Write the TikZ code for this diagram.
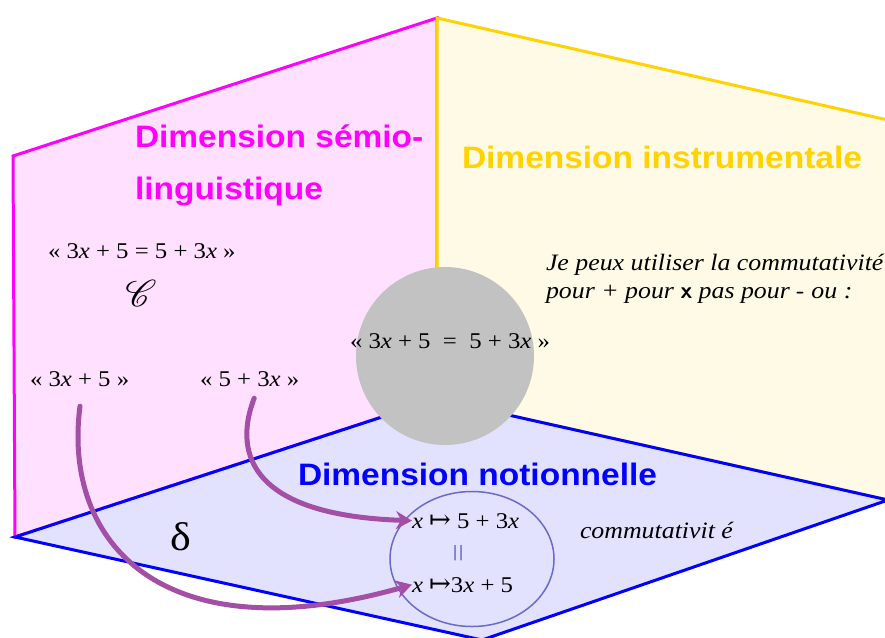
\documentclass[tikz,border=0pt]{standalone}
\usepackage{fontspec}
\setmainfont{Liberation Serif}[FakeStretch=1.1]
\newfontfamily\headfont{Liberation Sans}[FakeStretch=1.08]
\newfontfamily\symfont{DejaVu Serif}
\usepackage{mathrsfs}
\usetikzlibrary{
  positioning,
  arrows.meta,
  shapes.geometric
}
\definecolor{dsMag}{HTML}{FF00FF}
\definecolor{dsMagL}{HTML}{FFE1FF}
\definecolor{dsYel}{HTML}{FFD200}
\definecolor{dsYelL}{HTML}{FFFAE6}
\definecolor{dsBlue}{HTML}{0000FF}
\definecolor{dsBlueL}{HTML}{E2E2FF}
\definecolor{dsGrey}{HTML}{C2C2C2}
\definecolor{dsPurp}{HTML}{A24FA5}
\definecolor{dsRing}{HTML}{6A6AC8}
\newcommand{\mapsarrow}{{\symfont\fontsize{26}{26}\selectfont ↦}}

\begin{document}
\begin{tikzpicture}[x=1pt, y=-1pt,
  every node/.style={inner sep=0pt, outer sep=0pt},
  title/.style={font=\headfont\fontsize{31}{36}\selectfont\bfseries, anchor=base west},
  expr/.style={font=\fontsize{22.5}{26}\selectfont, anchor=base west},
  remark/.style={font=\itshape\fontsize{23.5}{26}\selectfont, anchor=base west},
  panel/.style={line width=3pt, line join=miter},
  arrow/.style={-{Stealth[length=16pt, width=18pt]}, line width=5pt, draw=dsPurp, line cap=round}
]
 \useasboundingbox (0,0) rectangle (885,637);

 % the three planes
 \draw[panel, draw=dsMag, fill=dsMagL] (13,156) -- (437,18) -- (437,399) -- (15,537) -- cycle;
 \draw[panel, draw=dsYel, fill=dsYelL] (437,18) -- (888,120) -- (888,500) -- (437,399) -- cycle;
 \draw[panel, draw=dsBlue, fill=dsBlueL] (15,537) -- (437,399) -- (888,500) -- (482,640) -- cycle;

 % plane titles
 \node[title, text=dsMag]  (semA) at (135,147) {Dimension sémio-};
 \node[title, text=dsMag]  (semB) at (135,199) {linguistique};
 \node[title, text=dsYel]  (inst) at (462,168) {Dimension instrumentale};
 \node[title, text=dsBlue] (nota) at (298,485) {Dimension notionnelle};

 % semio-linguistic side
 \node[expr] (eqA) at (48,258) {« 3\textit{x} + 5 = 5 + 3\textit{x} »};
 \node[font=\fontsize{22.5}{26}\selectfont, scale=1.8] (cal) at (141,293) {$\mathscr{C}$};
 \node[expr] (lhs) at (30,386) {« 3\textit{x} + 5 »};
 \node[expr] (rhs) at (200,386) {« 5 + 3\textit{x} »};

 % instrumental side
 \node[remark] (rkA) at (546,270) {Je peux utiliser la commutativité};
 \node[remark] (rkB) at (546,298) {pour + pour \textsf{\upshape\bfseries x} pas pour \textsf{\upshape\bfseries -} ou :};

 % centre
 \node[circle, fill=dsGrey, minimum size=178pt] (ball) at (445,356) {};
 \node[expr] (eqB) at (350,348) {« 3\textit{x} + 5 \ = \ 5 + 3\textit{x} »};

 % notional side
 \node[font=\fontsize{40}{44}\selectfont] (dlt) at (181,537) {δ};
 \node[ellipse, draw=dsRing, line width=1.5pt, minimum width=164pt, minimum height=135pt] (grp) at (472,559) {};
 \node[expr] (mapA) at (412,528) {\textit{x} \mapsarrow{} 5 + 3\textit{x}};
 \node[expr] (mapB) at (412,592) {\textit{x} \mapsarrow3\textit{x} + 5};
 \node[font=\fontsize{30}{32}\selectfont, text=dsRing, rotate=90] (same) at (462,553) {=};
 \node[remark] (cmt) at (580,538) {commutativit é};

 \draw[arrow] (rhs.south east) ++(-45,12) .. controls (236,445) and (240,515) .. (mapA.west);
 \draw[arrow] (lhs.south west) ++(50,20) .. controls (62,545) and (165,655) .. (mapB.west);
\end{tikzpicture}
\end{document}
